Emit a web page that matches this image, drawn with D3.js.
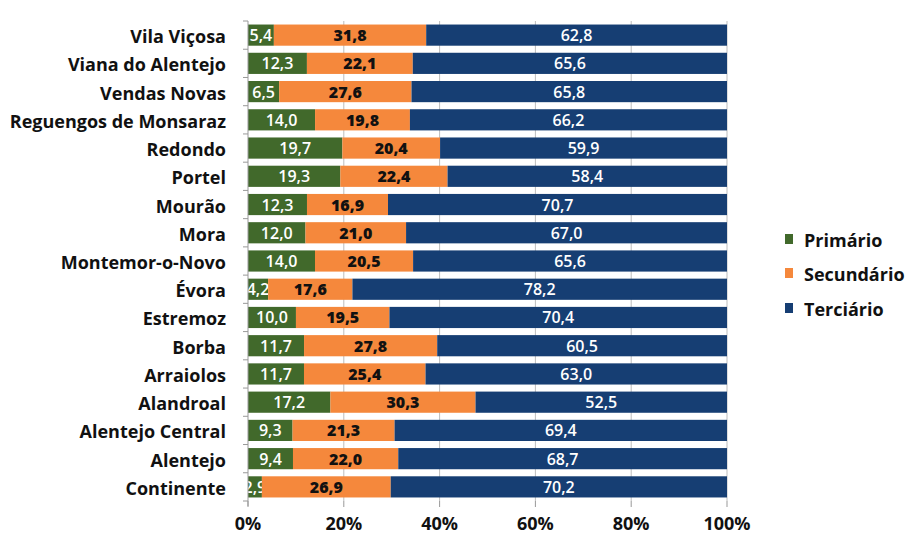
<!DOCTYPE html>
<html><head><meta charset="utf-8">
<script src="https://cdn.jsdelivr.net/npm/d3@7"></script>
<style>body{margin:0;background:#fff}svg{display:block}</style>
</head><body><svg id="c" width="907" height="535"></svg>
<script>
const categories = ["Vila Viçosa","Viana do Alentejo","Vendas Novas","Reguengos de Monsaraz","Redondo","Portel","Mourão","Mora","Montemor-o-Novo","Évora","Estremoz","Borba","Arraiolos","Alandroal","Alentejo Central","Alentejo","Continente"];
const primario =   [5.4,12.3,6.5,14.0,19.7,19.3,12.3,12.0,14.0,4.2,10.0,11.7,11.7,17.2,9.3,9.4,2.9];
const secundario = [31.8,22.1,27.6,19.8,20.4,22.4,16.9,21.0,20.5,17.6,19.5,27.8,25.4,30.3,21.3,22.0,26.9];
const terciario =  [62.8,65.6,65.8,66.2,59.9,58.4,70.7,67.0,65.6,78.2,70.4,60.5,63.0,52.5,69.4,68.7,70.2];
const seriesNames = ["Primário","Secundário","Terciário"];
const tickValues = [0,0.2,0.4,0.6,0.8,1.0];

const colors = ["#41692b","#f5883c","#163e73"];
const textColors = ["#ffffff","#111111","#ffffff"];
const font = "'Open Sans', sans-serif";

const svg = d3.select("#c");
const m = {left:248, right:727, top:21, bottom:501};
const x = d3.scaleLinear().domain([0,1]).range([m.left, m.right]);
const y = d3.scaleBand().domain(categories).range([m.top, m.bottom]).paddingInner(0.25).paddingOuter(0.125);

const rows = categories.map((c,i)=>({c, vals:[primario[i],secundario[i],terciario[i]]}));

// gridlines
svg.append("g").selectAll("line").data(tickValues.slice(1)).join("line")
  .attr("x1",d=>x(d)).attr("x2",d=>x(d)).attr("y1",m.top).attr("y2",m.bottom)
  .attr("stroke","#bdbdbd").attr("stroke-width",1);

// bars
rows.forEach(r=>{
  const total = d3.sum(r.vals);
  let acc = 0;
  r.vals.forEach((v,k)=>{
    const x0 = x(acc/total), x1 = x((acc+v)/total);
    svg.append("rect").attr("x",x0).attr("y",y(r.c)).attr("width",x1-x0).attr("height",y.bandwidth())
      .attr("fill",colors[k]);
    svg.append("text").attr("x",(x0+x1)/2).attr("y",y(r.c)+y.bandwidth()/2)
      .attr("text-anchor","middle").attr("dominant-baseline","central")
      .attr("font-family",font).attr("font-size",16).attr("font-weight",k===1?"800":"600")
      .attr("fill",textColors[k]).text(d3.format(".1f")(v).replace(".",","));
    acc += v;
  });
});

// left axis
const ya = svg.append("g");
ya.append("line").attr("x1",m.left).attr("x2",m.left).attr("y1",m.top).attr("y2",m.bottom+5).attr("stroke","#999");
const bounds = d3.range(categories.length+1).map(i=>m.top + i*(m.bottom-m.top)/categories.length);
ya.selectAll("line.t").data(bounds).join("line").attr("class","t")
  .attr("x1",m.left-5).attr("x2",m.left).attr("y1",d=>d).attr("y2",d=>d).attr("stroke","#999");
ya.selectAll("text").data(categories).join("text")
  .attr("x",226).attr("y",d=>y(d)+y.bandwidth()/2+1)
  .attr("text-anchor","end").attr("dominant-baseline","central")
  .attr("font-family",font).attr("font-size",18).attr("font-weight","bold").attr("fill","#111")
  .text(d=>d);

// bottom axis
const xa = svg.append("g");
xa.selectAll("line").data(tickValues).join("line")
  .attr("x1",d=>x(d)).attr("x2",d=>x(d)).attr("y1",m.bottom).attr("y2",m.bottom+6).attr("stroke","#999");
xa.selectAll("text").data(tickValues).join("text")
  .attr("x",d=>x(d)).attr("y",523).attr("text-anchor","middle").attr("dominant-baseline","central")
  .attr("font-family",font).attr("font-size",18).attr("font-weight","bold").attr("fill","#111")
  .text(d=>d3.format(".0%")(d));

// legend
const lg = svg.append("g");
const ly = [239,273,308];
seriesNames.forEach((n,k)=>{
  lg.append("rect").attr("x",785).attr("y",ly[k]-5).attr("width",8).attr("height",10).attr("fill",colors[k]);
  lg.append("text").attr("x",804).attr("y",ly[k]+1).attr("dominant-baseline","central")
    .attr("font-family",font).attr("font-size",18).attr("font-weight","bold").attr("fill","#111").text(n);
});
</script></body></html>
